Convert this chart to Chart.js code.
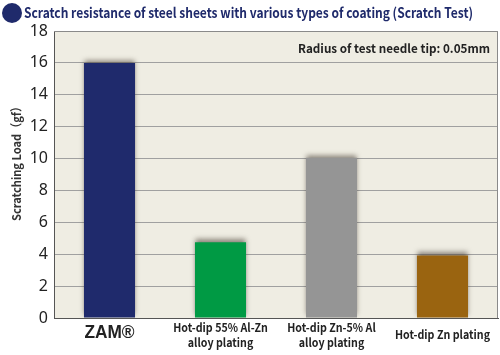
<!DOCTYPE html>
<html><head><meta charset="utf-8">
<script src="https://cdn.jsdelivr.net/npm/chart.js@4/dist/chart.umd.min.js"></script>
<style>html,body{margin:0;padding:0;background:#fff}#c{display:block}</style>
</head><body>
<div style="width:500px;height:355px"><canvas id="c" width="500" height="355"></canvas></div>
<script>
const chartTitle = 'Scratch resistance of steel sheets with various types of coating (Scratch Test)';
const noteText = 'Radius of test needle tip: 0.05mm';
const yAxisTitle = 'Scratching Load\uFF08gf\uFF09';
const categories = [['ZAM\u00AE'], ['Hot-dip 55% Al-Zn', 'alloy plating'], ['Hot-dip Zn-5% Al', 'alloy plating'], ['Hot-dip Zn plating']];
const loads = [16.0, 4.75, 10.05, 3.92];
const barColors = ['#1f2a6c', '#009a44', '#959595', '#9a6410'];
const yTicks = [0, 2, 4, 6, 8, 10, 12, 14, 16, 18];

function squeezeText(ctx, text, x, y, sx) {
  ctx.save();
  ctx.translate(x, y);
  ctx.scale(sx, 1);
  ctx.fillText(text, 0, 0);
  ctx.restore();
}

const deco = {
  id: 'deco',
  beforeDraw(chart) {
    const {ctx, chartArea: a} = chart;
    ctx.save();
    ctx.fillStyle = '#efede3';
    ctx.fillRect(a.left, a.top, a.right - a.left, a.bottom - a.top);
    ctx.restore();
  },
  beforeDatasetsDraw(chart) {
    const ctx = chart.ctx;
    ctx.save();
    ctx.shadowColor = 'rgba(70,60,50,0.6)';
    ctx.shadowBlur = 5;
    ctx.shadowOffsetY = -3;
  },
  afterDatasetsDraw(chart) {
    chart.ctx.restore();
  },
  afterDraw(chart) {
    const {ctx, chartArea: a} = chart;
    const xs = chart.scales.x;
    ctx.save();
    ctx.strokeStyle = '#8a8a8a';
    ctx.lineWidth = 1;
    ctx.beginPath();
    ctx.moveTo(a.left, a.top + 0.5);
    ctx.lineTo(a.right - 0.5, a.top + 0.5);
    ctx.lineTo(a.right - 0.5, a.bottom);
    ctx.stroke();
    // bullet + title
    ctx.fillStyle = '#1f2a6b';
    ctx.beginPath();
    ctx.arc(12, 13, 10, 0, Math.PI * 2);
    ctx.fill();
    ctx.font = 'bold 14px "Noto Sans CJK JP"';
    ctx.textBaseline = 'middle';
    ctx.textAlign = 'left';
    const w = ctx.measureText(chartTitle).width;
    squeezeText(ctx, chartTitle, 24, 13, 449 / w);
    // note
    ctx.fillStyle = '#222';
    ctx.font = 'bold 12px "Noto Sans CJK JP"';
    ctx.textAlign = 'right';
    squeezeText(ctx, noteText, 490, 48, 0.975);
    // y axis title
    ctx.save();
    ctx.fillStyle = '#333';
    ctx.font = 'bold 12px "Noto Sans CJK JP"';
    ctx.textAlign = 'center';
    ctx.translate(16, 161);
    ctx.rotate(-Math.PI / 2);
    const tw = ctx.measureText(yAxisTitle).width;
    ctx.scale(Math.min(1, 120 / tw), 1);
    ctx.fillText(yAxisTitle, 0, 0);
    ctx.restore();
    // x labels
    ctx.textAlign = 'center';
    categories.forEach((lines, i) => {
      const x = xs.getPixelForValue(i);
      ctx.fillStyle = '#222';
      if (i === 0) {
        ctx.font = 'bold 18px "Liberation Sans"';
        squeezeText(ctx, lines[0], x, a.bottom + 15, 0.96);
        return;
      }
      ctx.font = 'bold 12px "Noto Sans CJK JP"';
      if (lines.length === 1) {
        squeezeText(ctx, lines[0], x, a.bottom + 16, 0.89);
      } else {
        squeezeText(ctx, lines[0], x, a.bottom + 9, 0.89);
        squeezeText(ctx, lines[1], x, a.bottom + 24, 0.89);
      }
    });
    ctx.restore();
  }
};

new Chart(document.getElementById('c'), {
  type: 'bar',
  data: {
    labels: categories,
    datasets: [{
      data: loads,
      backgroundColor: barColors,
      borderWidth: 0,
      barPercentage: 0.46,
      categoryPercentage: 1.0
    }]
  },
  options: {
    responsive: false,
    animation: false,
    devicePixelRatio: 1,
    layout: {padding: {top: 31, right: 2, left: 0, bottom: 0}},
    plugins: {legend: {display: false}, tooltip: {enabled: false}, title: {display: false}},
    scales: {
      x: {
        grid: {display: false, drawTicks: false},
        border: {display: true, color: '#555', width: 1},
        afterFit(s) { s.height = 37; },
        ticks: {display: false}
      },
      y: {
        min: 0, max: 18,
        afterBuildTicks(s) { s.ticks = yTicks.map(v => ({value: v})); },
        afterFit(s) { s.width = 54; },
        grid: {color: '#a0a0a0', lineWidth: 1, drawTicks: false},
        border: {display: true, color: '#555', width: 1},
        ticks: {
          padding: 6,
          color: '#222',
          font: {family: '"Noto Sans"', size: 16}
        },
        title: {display: false}
      }
    }
  },
  plugins: [deco]
});
</script>
</body></html>
